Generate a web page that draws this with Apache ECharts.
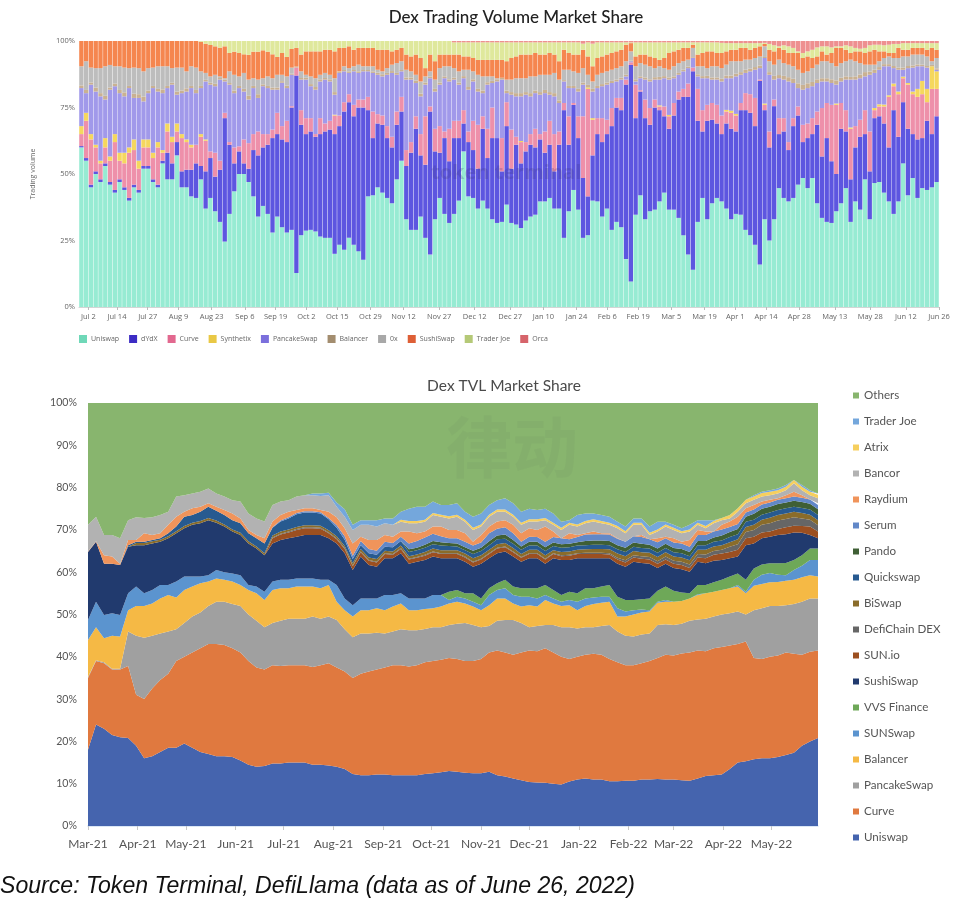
<!DOCTYPE html>
<html><head><meta charset="utf-8">
<style>html,body{margin:0;padding:0;background:#fff}#c{width:964px;height:917px}</style>
<script src="https://cdn.jsdelivr.net/npm/echarts@6/dist/echarts.min.js"></script>
</head><body><div id="c"></div>
<script>
// ---------- Top chart: daily DEX volume share, read as the top edge of each stacked band (%)
const volTickDays=[4,16,29,42,56,70,83,96,109,123,137,152,167,182,196,210,223,236,250,264,277,290,304,319,334,349,363];
const volTickLabels=['Jul 2','Jul 14','Jul 27','Aug 9','Aug 23','Sep 6','Sep 19','Oct 2','Oct 15','Oct 29','Nov 12','Nov 27','Dec 12','Dec 27','Jan 10','Jan 24','Feb 6','Feb 19','Mar 5','Mar 19','Apr 1','Apr 14','Apr 28','May 13','May 28','Jun 12','Jun 26'];
const volNames=['Uniswap','dYdX','Curve','Synthetix','PancakeSwap','Balancer','0x','SushiSwap','Trader Joe','Orca'];
const volUniswapTop=[60,55,45,50,47,53,46,43,47,44,40,45,43,52,52,47,45,54,48,48,57,45,45,41.6,41,48,37,41,36,32,24.6,35,43.5,50,50,47,41.6,34,38,35,28,34,30,28,29,
12.8,27,28.7,29,28.4,26.5,26,26,20,23.4,21.5,26,23.4,21,17.8,41.6,42,45,43,41,39,48,55,33,29,29,34,26,19.7,33,41,35,31.6,35,40,58.5,41.6,41,37,40,37,33,31.6,32,38.5,
31.6,31,29.7,32.5,34,34.7,39.7,39.7,41,37,37,26,36,44,36.6,26,27,40,39.7,34,37,29,32,30,18,9.6,34.7,42,33,36,36.6,39.7,43,36.6,36.6,33.5,27,19.7,14,32,41,33,39,41,39.7,
37,33,35,34.7,29,27,23.4,16,33,25,33,44.7,41,39.7,41,46,48.5,44.7,48.5,39,33.5,32,31.6,36,39,44.7,32,39.7,36.6,48,33,46.6,47,43,39.7,35,39.7,54,42,48.5,41,44.7,44,45,47];
const volDydxTop=[60.5,56,46,51,48,54,47,44,48,45,41,46,44,53,53,48,46,55,58,54,62,51,51.6,51.6,54,53,51,56,49,51.6,71,61,54,58.5,54,52,59,57,60,61,63.5,65,63,62,75,
87,68.5,65,66,64,65,66,66.7,65,68,73.5,77,71.7,75,75,74,63.5,69,68.5,63.5,60,68.5,73.5,53,58,67,57,53.5,73.5,58.5,58,63.5,54.8,63.5,63.5,69,62,59,52,67,56,63.5,63.5,51,68,
52,61,54,58.5,61,60,63,58,61,51,61,74,61,76,63.5,48.5,41.6,57,65,62,65,68,75,74,83.6,91,71,81,71,68.5,75,74,71.7,67,72,78,79,79,88.6,70,66,70,70.4,69,65,
69,67,66,74,74,73,68,85,74,60,75.5,65,66,59,68,72,62,63.5,65,68.5,56.6,63.5,54.8,50,67,66,48,60,64,65,51,71,71.7,69,60,74,64,77,67,65,63,63.5,70,65,71.7];
const volCurveTop=[65,70,63,60,54,60,55,62,55,54,58,59,52,60,60,56,60,58,66,62,66,63.5,62,60,61,64,62.5,58.5,58,55,73,62,60,60.4,63,61.6,65,66,65,65,66.7,73,68,70,75.5,
90,74,71,71,65,71,69,70,72,72,77,80,76,78,78,79,73.5,72.5,72,68,64,73.5,79,59,62,71.7,65,71.7,75.4,67,68,66,67,70,70,74,66,70,68.5,71.7,67,75,63.5,63.5,77,
66.7,64,62,62,65,67,65,66,70,65,66,76.7,71.7,76.7,71.7,71.7,82,70.4,71,71,70.4,74.8,78.6,78.6,85.5,92,83.6,81.5,78,74.8,78,75.4,75.4,71.7,76.7,81,82,84,90,82,74,76,76.7,76,72,
73.5,73,72,76.7,80.4,80,78.6,85.5,76,66,78,71,71,62,71,75.4,68.5,69,71,73.5,74.8,76.7,76,76,76.7,74,67,68,70.4,74,66,74,75.4,75.4,79,83,80,86,83.6,80,79,80,77,82,82];
const volSynthetix=[3,3,2,1,1,3.5,1.6,3,3,4,2,4,3,3,3,2,2,1,3,2,3,1.5,1,1,0,1,.5,0,0,0,0,0,0,0,0,0,0,0,0,0,0,0,0,0,0,
0,0,0,0,0,0,0,0,.3,0,0,0,0,0,0,0,0,0,0,0,0,0,0,0,0,0,0,0,0,0,0,0,0,0,0,0,0,0,0,0,0,0,0,0,0,
0,0,.4,0,0,0,0,0,0,0,0,0,0,0,0,0,.5,.6,0,0,0,0,0,0,0,0,0,0,0,0,0,.4,0,.5,0,0,0,0,0,0,0,0,0,0,0,
.6,.8,.6,0,0,0,0,0,.5,0,0,0,0,0,0,0,0,0,0,0,0,0,0,.5,0,0,.5,0,0,0,0,.8,.8,.7,.6,1,1,.6,.6,1,3,5,5,8.5,6.6];
const volPancakeTop=[82.3,80.4,83.6,81,79.2,78,81.7,83,80.4,79.2,82.3,78.6,78.6,77.3,80.4,82.3,81,80.4,82.3,83.6,79.8,80.4,81,82.3,80.4,82.3,84.8,83.6,83,85.5,84.8,83.6,80.4,82.3,81,78,82.3,78.6,83,82.3,81.7,81.7,84.3,82.3,87.3,
88.6,85.5,85.5,83,81.7,84.8,85.5,84.8,79.8,88,88.6,88,88.6,88,88.6,88.6,88,87.3,86.7,87.3,88,87.3,88.6,85.5,85.5,84.2,79.2,83.6,86,81,83.6,86,84.8,85.5,83.6,86,81.7,84.8,81,80.4,83.6,84.2,84.8,85.5,80.4,
79.8,79.2,79.2,79.8,79.2,80.4,79.8,80.4,79.8,79.2,76.7,84.8,82.3,82.3,81,83.6,81.7,81,82.3,83,83.6,84.2,84.8,85.5,86.7,92.4,84.8,86,85.5,84.8,85.5,85.5,86,85.5,86,87.3,88.6,89.8,93.6,86.7,86,86,85.5,85.5,84.8,
86,86,86.7,87.3,88,88.6,89.2,89.8,93.6,87.3,85.5,86,85.5,84.8,84.2,82.3,81.7,82.3,83,84.2,84.8,84.8,84.2,83.6,84.8,85.5,85.5,85.5,86,86.7,87.3,88,89.2,90.5,90.5,89.8,89.2,89.2,89.8,90,90.5,90.5,90,89.8,89.2];
const volBalancer=[1,1.2,.8,1.5,1.2,1.4,.8,1,1.2,1.5,.8,1.6,1.4,1.8,1,.8,1,1.4,.8,.7,1.2,1,1.2,.8,1.2,.8,.6,.7,.9,.6,.7,.6,1,.8,1,1.4,.8,1.4,.7,.8,.8,.8,.6,.9,.4,
.4,.6,.7,.8,1,.8,.6,.8,1,.5,.5,.6,.5,.6,.5,.5,.6,.8,.8,.7,.7,.7,.5,.8,.8,.9,1,.8,.6,1,.8,.7,.8,.7,.8,.8,1,.8,1,1,.9,.8,.8,.7,1,
1,1.2,1.2,1,1.2,1,1,1.2,1,1.2,1,.5,.8,.8,1,.8,1,1,.8,.8,.8,.8,.7,.7,.6,.3,.8,.7,.8,.8,.9,1,.8,.8,.7,.7,.6,.6,.3,.8,.8,.9,.8,.8,1,
1,1,1,1,1.2,1,1,1,.4,1,1.4,1.2,1.4,1.6,1.6,1.8,1.8,1.8,1.6,1.4,1.2,1.2,1.4,1.6,1.4,1.2,1,1.2,1.4,1.6,1.2,1.2,1,.8,.8,.8,.8,.8,.8,.8,.7,.6,.6,.5,.5];
const vol0xTop=[90.5,92.4,90,89.8,89.8,90.5,91,90.5,90.5,90,89.8,90,89.8,88.6,89.8,90,90.5,90.5,90.5,89.8,90,90,88.6,90.5,90,88.6,88,86.7,87.3,86.7,86,88.6,87.3,86.7,88,85.5,86,85.5,86,86.7,86,87.3,87.3,86.7,90,
89.2,88.6,87.3,86.7,86,87.3,88,87.3,86,88.6,90.5,89.8,90.5,91.1,90.5,90.5,90.5,89.2,88.6,89.8,91.1,91.7,92.4,89.2,88.6,87.3,84.8,86.7,88.6,85.5,89.8,90.5,90.5,89.8,88.6,89.2,89.2,88.6,87.3,86.7,86.7,86.7,86,85.5,85.5,
85.5,86,86,86,86.7,86.7,87.3,87.3,87.3,88,85.5,89.2,89.2,88.6,88,89.8,87.3,84.8,87.3,88,88.6,89.2,89.8,90.5,92.4,96.1,90.5,91.7,91.1,90.5,89.8,90.5,89.8,89.2,90.5,91.7,92.4,93,97.4,90.5,90.5,89.8,90.5,90.5,89.8,
91.1,92.4,92.4,92.4,93,93,93.6,94.2,98,92.4,91.1,93,91.7,91.1,90.5,89.2,88,88.6,89.8,91.1,92.4,92.4,91.7,90.5,91.7,92.4,93,92.4,91.7,91.1,91.1,91.1,92.4,93.6,94.2,93.6,93.6,94.2,94.2,94.9,94.9,94.9,94.2,92.4,93.6];
const volSushiTop=[100,100,100,100,100,100,100,100,100,100,100,100,100,100,100,100,100,100,100,100,100,100,100,100,100,99.7,99,98.5,98,97.5,98,95.5,96,95.5,95,94.8,96,96,96.5,96,95,94,95.5,94,97,
97.4,94.9,96.1,96.1,96.1,96.1,96.7,96.7,96.1,97.4,97.4,98,96.7,97.4,97.4,97.4,97.4,96.7,96.7,96.7,96.1,96.7,97.4,94.9,94.2,94.9,93.6,89.8,94.9,92.4,94.9,94.9,94.9,94.9,94.9,94.2,94.2,93.6,92.9,92.9,92.9,92.9,92.9,92.9,92.4,
93.6,94.2,94.9,94.9,94.9,95.5,94.9,94.9,95.5,94.9,92.4,96.7,95.5,94.9,94.9,96.7,94.2,90.5,93.6,94.2,94.9,95.5,96.1,96.7,98.6,99.2,94.2,94.9,94.9,94.2,93.6,92.9,93.6,95.5,96.1,96.7,97.4,97.4,98.6,94.9,95.5,96.1,96.1,95.5,95.5,
96.1,96.7,96.7,97.4,97.4,96.7,97.4,98,98.9,96.7,96.1,97.4,96.7,95.5,95.5,95.5,93.6,94.2,93.6,94.2,96.1,94.9,95.5,97.4,97.4,96.7,95.5,96.1,96.1,95.5,96.1,96.7,96.1,96.1,95.5,95.5,97.4,96.7,96.7,97.4,97.4,97.4,96.7,97.4,96.7];
const volJoeTop=[100,100,100,100,100,100,100,100,100,100,100,100,100,100,100,100,100,100,100,100,100,100,100,100,100,100,100,100,100,100,100,100,100,100,100,100,100,100,100,100,100,100,100,100,100,
100,100,100,100,100,100,100,100,100,100,100,100,100,100,100,100,100,100,100,100,100,100,100,100,100,100,100,100,100,100,100,100,100,99.5,99.5,99.5,99.5,99.5,99.5,99.5,99.5,99.5,99.5,99.5,99.5,
99.5,99.5,99.5,99.5,99.5,99.5,99.5,99.5,99.5,99.5,99.5,99.5,99.5,99.5,99.5,99,99.5,99,99.5,99.5,99.5,99.5,99.5,99.5,99.5,99.5,99.5,99.5,99.5,99.5,99.5,99.5,99.5,99.5,99.5,99.5,99.5,99.5,99.5,99.5,99.5,99.5,99.5,99.5,99.3,
99.2,99.2,99.2,99.2,99.2,99.2,99.2,99.2,99.3,98.9,98.4,98,98.4,98,97.4,96.1,95.5,96.1,96.7,97.6,98,98,97.6,98,98,98.4,98,97.4,97.1,97.4,98.4,98.6,98.6,98.4,98.6,98.9,98.9,99.2,99.2,99.2,99.2,99.2,99.2,99.2,99.2];
const volColors=['#97ebd3','#5d56e0','#ee90aa','#f5d75e','#a199ea','#c9b192','#bdbdbd','#f5864f','#dfe89c','#ee9090'];
const volLegendColors=['#6fd8b8','#3c2cc4','#e2688f','#e9c845','#7b6fdc','#a38d6f','#a8a8a8','#de5f36','#b5c977','#d6646b'];

// ---------- Bottom chart: DEX TVL share, sampled every 5 days from Mar 1 2021
const tvlMonthDays=[0,31,61,92,122,153,184,214,245,275,306,337,365,396,426];
const tvlMonthLabels=['Mar-21','Apr-21','May-21','Jun-21','Jul-21','Aug-21','Sep-21','Oct-21','Nov-21','Dec-21','Jan-22','Feb-22','Mar-22','Apr-22','May-22'];
const tvlNames=['Uniswap','Curve','PancakeSwap','Balancer','SUNSwap','VVS Finance','SushiSwap','SUN.io','DefiChain DEX','BiSwap','Quickswap','Pando','Serum','Raydium','Bancor','Atrix','Trader Joe','Others'];
const tvlUniswapTop=[18,24,23,21.5,21,20.8,19,16,16.5,17.5,18.5,18.5,19.5,18.5,17.5,17,16.5,16.5,16.3,15.5,14.5,14,14.2,14.8,14.8,15,15,15,14.5,14.5,14.3,14,13.5,12.3,12,12,12.2,12.2,12,12,12,12,12.3,12.5,12.7,13,12.8,12.6,12.5,12.5,12.8,12,11.7,11.2,10.8,10.4,10.3,10.2,10,9.8,10.5,11,11.2,11,11,10.6,10.6,10.7,10.7,11,11,11.1,11,11,10.8,10.7,11.2,11.8,12,12.2,13.5,15,15.3,15.8,16,16,16.3,16.8,17.3,19,20,20.8];
const tvlCurveTop=[35,39,38.5,37,37,37.8,31,30,32.5,34.5,36,39,40,41,42,43,43,42.8,42,41,39,37.5,37,38,37.8,38,38,38,37.6,38,38.5,37.5,36.5,35,36,36.5,37,37.5,38,38,37.7,38,38.7,39,39.3,39.7,39.5,39,39,39.5,41,41.5,41,40.5,41,41.5,41.3,42,41,40,39.5,40,40.5,40.7,40.5,39.5,38.7,38,38,38.5,39,39.7,40.5,40.3,40.8,41,41.5,41.3,42,42.3,42.7,43,43.6,39.7,39.5,40,40.3,41,40.7,40.5,41.2,41.5];
const tvlPancakeTop=[35.2,39.2,38.7,37.2,37.2,46,45,44.5,45,45.5,46,46.5,48,49.5,50.5,52,53,53,52.5,52,50,48.5,47,48,48.5,49,49,49,49.5,49,49.5,48.7,46.5,44.6,45.5,45.5,45.7,45.5,46,46.5,46.3,46.3,46.6,47,47,47.5,47.8,48,47.5,47,47.3,48.5,48.7,48.7,48,47,47.3,47.5,47.5,47,47,46.7,47,47,47.3,47.5,46,45,44.8,45.3,45.5,47.5,47.7,47.5,47.8,48.5,48.8,49,49.5,50,50.3,50.7,50,51,51.5,52,52,52.2,52.5,53,53.8,53.8];
const tvlBalancerTop=[44,47,44.4,45,44.8,51,52,52,52.6,53.8,54.6,54,55.8,56.6,57.4,57.8,58.5,58.2,57.8,57,55.8,55,53.4,55.8,56.2,56.2,56.6,56.6,56.6,56.2,57,53,51,49.5,51,51,51.5,51,51.9,52.6,51,51,51.3,51.5,51.9,52.6,53,52.6,51.9,51,52.2,53.8,53.8,52.6,51.9,52.2,51.9,53.4,52.6,52,52.2,51,52,52.5,52.8,53,49.5,49.5,50,50.5,50.7,52.8,53,53,53.2,53.8,54.6,55,55.4,55.8,56.2,56.6,55,56.8,57.2,57.6,57.7,58,58.2,58.8,59.3,59];
const tvlSunswapTop=[48.7,53,49.9,50.3,49.9,55,56.6,55,55.8,57,57,57.8,59,59,59,59.3,60.5,60,59.7,59.3,57,56.6,55.4,57.8,58.2,58.2,58.5,58.5,58.5,58.2,58.2,57,53.8,52.2,53.8,53.8,53.8,54.6,54.6,55,53.8,53.8,53.8,54.6,54.6,53.4,54.2,53.8,53,52.2,54.6,55.8,56.2,54.6,54.2,54.2,53.8,54.6,53.8,53,53.4,53,53.8,54,54.2,54.2,51.5,50.7,51,51.2,51,53,53.4,52.4,52.2,52.4,54.8,55,55,55.3,55.6,57,55.4,58.2,59.4,59.8,59.4,59.3,60.5,61.5,62.9,62.9];
const tvlVvsTop=[0,0,0,0,0,0,0,0,0,0,0,0,0,0,0,0,0,0,0,0,0,0,0,0,0,0,0,0,0,0,0,0,0,0,0,0,0,0,0,0,0,0,0,0,0,55.4,55.8,55,55,53.8,56.2,57.4,58.2,56.6,56.2,56.2,56.2,57,55.8,54.6,55.4,55,56.2,56.2,56.6,57,54.2,53.4,53.4,53.6,53.8,55.6,56.6,55.6,55.2,55,57,57,57.6,58.2,59,59.7,58.2,60.9,61.8,62.1,62.1,62.2,62.9,64,65.6,65.6];
const tvlSushiTop=[64.8,67.2,62,62,61.7,66,66.4,66.4,66.8,67.2,68,69.2,70.4,71.2,71.6,72.3,71.7,70.8,69.6,68.8,66.8,65.6,64,66.8,67.6,68,68.4,68.8,68.8,68.8,68,66.8,64.5,60.5,63.7,61.7,61.3,63.3,63.3,64.5,62,62.5,62.9,63.7,63.3,63.3,63.3,62.5,61.3,62,63.3,64.5,64.9,63.7,62.5,63.3,63.3,62,63.3,62.9,62.9,63.3,63.3,63.3,63.3,63.3,62,61.3,62.5,62.2,62,61,62,61,60.7,60.1,62.5,62.1,62.7,62.9,63.3,63.7,66.4,66.8,68,68.4,68.8,69,69.4,69.3,68.8,68];
const tvlSunio=[0,0,0,0,0,0,0,0,0,0,0,0,0,0,0,0,0,0,0,0,0,0,0,1.2,1.3,1.4,1.6,1.6,1.6,1.5,1.2,1,1,.9,1,1,1,1,.8,1,1,.9,1,1,1,1,1,1,1,1,1,1.1,1,1,.9,1,1,1,1,.9,1,1,1,1,1,.9,1,1,1,1,1,1,1,1,1,.9,1,1.2,1.4,1.5,1.5,1.6,1.6,1.6,1.4,1.2,1.4,1.6,1.6,1.6,2,1.6];
const tvlDefichain=[0,0,0,0,0,0,0,0,0,0,0,0,0,0,0,0,0,0,0,0,0,0,0,.2,.2,.2,.2,.2,.2,.2,.2,.2,.2,.2,.2,.2,.2,.2,.2,.2,.2,.2,.2,.2,.2,.2,.2,.2,.2,.2,.2,.2,.2,.2,.2,.2,.2,.2,.2,.2,.2,.2,.3,.3,.3,.3,.4,.5,.5,.6,.6,.6,.7,.7,.8,.8,.8,.9,.9,.9,1.2,1.3,1.5,1.6,1.8,2,2,2,2,1.8,1.6,1.5];
const tvlBiswap=[0,0,0,0,0,0,.5,.5,.5,.5,.5,.5,.5,.5,.5,.5,.5,.5,.5,.5,.5,.5,.5,.5,.5,.5,.5,.5,.5,.5,.5,.5,.5,.5,.6,.6,.6,.6,.6,.6,.6,.6,.7,.7,.7,.7,.7,.7,.8,.8,.8,.8,.8,.8,.7,.8,.8,.8,.7,.8,.8,.8,.8,.9,.9,.9,1,1,1,.9,1,1,1,1,1,1,1,1.1,1.1,1.1,1.1,1.2,1.2,1.2,1.2,1.3,1.3,1.3,1.3,1.3,1.2,1.2];
const tvlQuickswap=[0,0,0,0,0,.4,.3,.3,.3,.3,.7,1.1,2.2,1.8,2.2,2.7,2.3,2.2,2.2,2.3,1.9,1.9,2.3,1.8,2.4,2.6,3,3,3,2.9,2.6,2,1.5,1,.9,1,1,.9,1,1.1,1,1,1,1,1.1,1,.9,.8,1,1,1.1,1.2,1,1,1,1,1,1,1,1,1,1,1,1,1,1,1,1,1,1,1,1,1,1,1,1,1.1,1.1,1.1,1.1,1.2,1.2,1.2,1.2,1.2,1.2,1.2,1.2,1.2,1.2,1.2,1.2];
const tvlPando=[0,0,0,0,0,0,0,0,0,0,0,0,0,0,0,0,0,0,0,0,0,0,0,0,0,0,0,0,0,0,0,0,0,0,0,0,0,0,0,0,.6,.6,.7,.8,.8,.7,.7,.7,.8,.8,.9,.9,1,.9,.8,.9,.9,.9,.8,.8,.8,.8,1,1,1,1,1,1,1,1,.9,1,1,1,1,1,1,1,1,1.2,1.2,1.2,1.2,1.4,1.4,1.4,1.4,1.4,1.4,1.4,1.4,1.4];
const tvlSerum=[0,0,0,0,0,0,0,0,0,0,0,0,0,0,0,0,0,0,0,0,0,0,0,.1,.2,.3,.3,.3,.3,.3,.3,.6,.8,.8,1,1,1,1.2,1,1,1.4,1.6,1.7,1.7,1.4,1.1,1.2,1.3,1.2,1.2,1.9,1.6,1.7,1.6,1.1,1.2,1.1,1.3,1.3,1.4,1.1,1.2,1.5,1.5,1.5,1.5,1.5,1.4,1.5,1.6,1.3,1.5,1.3,1.3,1.3,1.2,1.4,1.4,1.4,1.4,1.2,1.2,1,1,1,1,1,1,1,1,1,1];
const tvlRaydiumTop=[64.9,67.3,64,63.7,62,67.6,67.6,69.2,68.8,69.2,71.2,73.1,74.3,75.1,75.5,76.3,75.5,74.7,73.9,72.7,70,68.8,68,72,73.5,74.3,74.7,75.1,75.1,74.7,74.3,73,70.4,66.8,68.4,67.6,67.6,68.8,68.4,69.6,69.6,69.2,69.6,70.8,70.8,70,70,69.2,67.2,68.8,70.8,72,72.3,71.2,69.2,70.4,70,70.8,69.6,68,69.2,68.8,69.2,69.6,69.2,69.2,68,67.2,68,68.8,67.2,68,68.4,68,67.2,67.6,70,69.6,69.2,71.2,72,73.1,75.1,75.9,76.7,77.1,77.5,78.2,79,78.2,77.1,76.3];
const tvlBancorTop=[71.2,73.1,68.8,68.8,68,72.3,73,72.8,73,73.5,74.3,77.9,78.2,78.6,79,79.8,78.6,77.9,77,76.7,73.9,72.7,72,75.9,76.7,77,77.9,78.2,78.2,78,78.2,75.5,73.1,70,71.2,71.2,70.8,71.6,71.2,71.9,71.6,71.6,71.9,73.5,73.1,72.7,73.1,71.9,70,70.8,73.1,74.3,74.3,73.1,71.2,72,72,72.3,71.2,70,71.2,70.8,71.6,72,71.6,71.2,70.4,69.2,71.2,71.2,68.8,69.6,70.8,70,69.2,69.6,71.2,70.4,71.6,72.3,72.7,74.3,76.3,77.1,77.9,78.2,78.6,79.4,81,79.4,78.2,77.5];
const tvlAtrix=[0,0,0,0,0,0,0,0,0,0,0,0,0,0,0,0,0,0,0,0,0,0,0,0,0,0,0,0,0,0,0,0,0,0,0,0,0,0,0,.5,.5,.5,.5,.5,.5,.5,.5,.5,.5,.5,.5,.5,.5,.5,.5,.5,.5,.5,.5,.5,.5,.5,.5,.5,.5,.5,.5,.5,.5,.5,.5,.5,.5,.5,.5,.5,.5,.5,.5,.5,.8,.8,.8,.8,.8,.8,.8,.8,.8,.8,.8,.8];
const tvlJoeTop=[0,0,0,0,0,0,0,0,0,0,0,0,0,0,0,0,0,0,0,0,0,0,0,0,0,0,0,0,78.6,78.6,78.8,76.5,74.9,71.2,72.3,72.3,72.3,72.7,72.7,74.3,75,75.5,75.5,76.7,75.9,75.9,76.3,74.3,73.1,73.9,75.9,77,77.5,76.3,74.3,75,74.7,75,73.9,71.9,72.3,73.5,73.9,73.9,73.5,73.1,71.9,70.8,72.7,72.7,70.8,71.9,71.9,71.2,70.4,71.2,72.3,72.3,72.3,72.7,73.1,74.3,76.7,78.2,79,79.4,79.8,80.6,81.8,80.6,79.4,78.6];
const tvlColors=['#4564ae','#e0793f','#a0a0a0','#f5b945','#5b94cf','#6ea858','#213a6e','#9c4f20','#666666','#8a6c2a','#275a90','#3f5f35','#6288c8','#f0945b','#b2b2b2','#f6cf5e','#74a7dc','#88b56e'];

// ---------- Build stacked shares from the edges that were read
function cumulative(edges){let p=0;return edges.map(v=>{p=Math.max(p,Math.min(v,100));return p;});}
const volRows=volUniswapTop.map((_,i)=>{
  const c=volCurveTop[i],s=Math.max(c,volDydxTop[i])+volSynthetix[i],p=Math.max(s,volPancakeTop[i]),b=p+volBalancer[i];
  return [volUniswapTop[i],volDydxTop[i],c,s,p,b,vol0xTop[i],volSushiTop[i],volJoeTop[i],100];
});
const tvlRows=tvlUniswapTop.map((_,i)=>{
  const sushi=Math.max(tvlSushiTop[i],tvlVvsTop[i],tvlSunswapTop[i]);
  const a=sushi+tvlSunio[i],b=a+tvlDefichain[i],c=b+tvlBiswap[i],d=c+tvlQuickswap[i],e=d+tvlPando[i],f=e+tvlSerum[i];
  const r=Math.max(f,tvlRaydiumTop[i]),bn=Math.max(r,tvlBancorTop[i]),at=bn+tvlAtrix[i];
  return [tvlUniswapTop[i],tvlCurveTop[i],tvlPancakeTop[i],tvlBalancerTop[i],tvlSunswapTop[i],tvlVvsTop[i],sushi,a,b,c,d,e,f,r,bn,at,tvlJoeTop[i],100];
});
function shares(rows){
  const cum=rows.map(cumulative);
  return rows[0].map((_,s)=>cum.map(row=>+(row[s]-(s?row[s-1]:0)).toFixed(2)));
}
const volShares=shares(volRows);
const tvlShares=shares(tvlRows);
const volSamples=volUniswapTop.map((_,i)=>String(i));
const tvlSamples=tvlUniswapTop.map((_,i)=>String(i*5));

const sans='Lato';
const volSeries=volNames.map((n,s)=>({name:n,type:'bar',xAxisIndex:0,yAxisIndex:0,stack:'vol',data:volShares[s],barCategoryGap:'9%',itemStyle:{color:volColors[s]},emphasis:{disabled:true}}));
const tvlSeries=tvlNames.map((n,s)=>({name:n,type:'line',xAxisIndex:2,yAxisIndex:1,stack:'tvl',data:tvlShares[s],showSymbol:false,symbol:'none',lineStyle:{width:0},areaStyle:{color:tvlColors[s],opacity:1},itemStyle:{color:tvlColors[s]},emphasis:{disabled:true}}));

const option={animation:false,backgroundColor:'#fff',
 title:[
  {text:'Dex Trading Volume Market Share',left:516,top:9,padding:0,textAlign:'center',textStyle:{fontFamily:sans,fontSize:17,fontWeight:500,color:'#222'}},
  {text:'Dex TVL Market Share',left:504,top:378,padding:0,textAlign:'center',textStyle:{fontFamily:sans,fontSize:15.5,fontWeight:400,color:'#4a4a4a'}},
  {text:'Source: Token Terminal, DefiLlama (data as of June 26, 2022)',left:0,top:875,padding:0,textStyle:{fontFamily:'Liberation Sans',fontStyle:'italic',fontSize:23.1,fontWeight:400,color:'#111'}}
 ],
 legend:[
  {left:74,top:330,itemWidth:8,itemHeight:8,itemGap:10,icon:'rect',selectedMode:false,
   textStyle:{fontFamily:'Open Sans',fontSize:7,color:'#666',padding:[0,0,0,-1]},
   data:volNames.map((n,i)=>({name:n,itemStyle:{color:volLegendColors[i]}}))},
  {left:848,top:383,orient:'vertical',itemWidth:6,itemHeight:6,itemGap:11,icon:'rect',selectedMode:false,
   textStyle:{fontFamily:sans,fontSize:11.6,color:'#555',padding:0,lineHeight:15},
   data:tvlNames.map((n,i)=>({name:n,itemStyle:{color:tvlColors[i]}})).reverse()}
 ],
 grid:[
  {left:79,top:41,width:860,height:266,containLabel:false},
  {left:88,top:403,width:730,height:423,containLabel:false}
 ],
 xAxis:[
  {type:'category',gridIndex:0,position:'bottom',data:volSamples,show:false},
  {type:'value',gridIndex:0,position:'bottom',min:0,max:363,splitLine:{show:false},
   axisLine:{show:true,onZero:false,lineStyle:{color:'#d5d5d5',width:1}},
   axisTick:{show:true,customValues:volTickDays,length:3,lineStyle:{color:'#bbb'}},
   axisLabel:{customValues:volTickDays,fontFamily:'Open Sans',fontSize:7.5,color:'#666',margin:6,hideOverlap:false,
     formatter:v=>volTickLabels[volTickDays.indexOf(v)]||''}},
  {type:'category',gridIndex:1,position:'bottom',boundaryGap:false,data:tvlSamples,show:false},
  {type:'value',gridIndex:1,position:'bottom',min:0,max:455,splitLine:{show:false},
   axisLine:{show:true,onZero:false,lineStyle:{color:'#cfe0f2',width:1.5}},
   axisTick:{show:true,customValues:tvlMonthDays,length:4,lineStyle:{color:'#c8c8c8'}},
   axisLabel:{customValues:tvlMonthDays,fontFamily:sans,fontSize:12,color:'#555',margin:12,hideOverlap:false,
     formatter:v=>tvlMonthLabels[tvlMonthDays.indexOf(v)]||''}}
 ],
 yAxis:[
  {type:'value',gridIndex:0,min:0,max:100,interval:25,splitLine:{show:false},axisLine:{show:false},axisTick:{show:false},
   name:'Trading volume',nameLocation:'middle',nameGap:43,nameRotate:90,nameTextStyle:{fontFamily:'Open Sans',fontSize:7,color:'#666'},
   axisLabel:{formatter:'{value}%',fontFamily:'Open Sans',fontSize:7.5,color:'#666',margin:4}},
  {type:'value',gridIndex:1,min:0,max:100,interval:10,splitLine:{show:false},axisLine:{show:false},axisTick:{show:false},
   axisLabel:{formatter:'{value}%',fontFamily:sans,fontSize:10.6,color:'#555',margin:11}}
 ],
 graphic:[
  {type:'text',left:431,top:163,z:50,silent:true,style:{text:'token terminal',fontFamily:'Open Sans',fontSize:20,fontWeight:700,fill:'rgba(60,50,120,0.22)'}},
  {type:'text',left:446,top:414,z:50,silent:true,style:{text:'律动',fontFamily:'Noto Sans CJK SC',fontSize:66,fontWeight:700,fill:'rgba(110,140,100,0.13)'}}
 ],
 series:[...volSeries,...tvlSeries]
};
echarts.init(document.getElementById('c'),null,{renderer:'canvas'}).setOption(option);
</script></body></html>
